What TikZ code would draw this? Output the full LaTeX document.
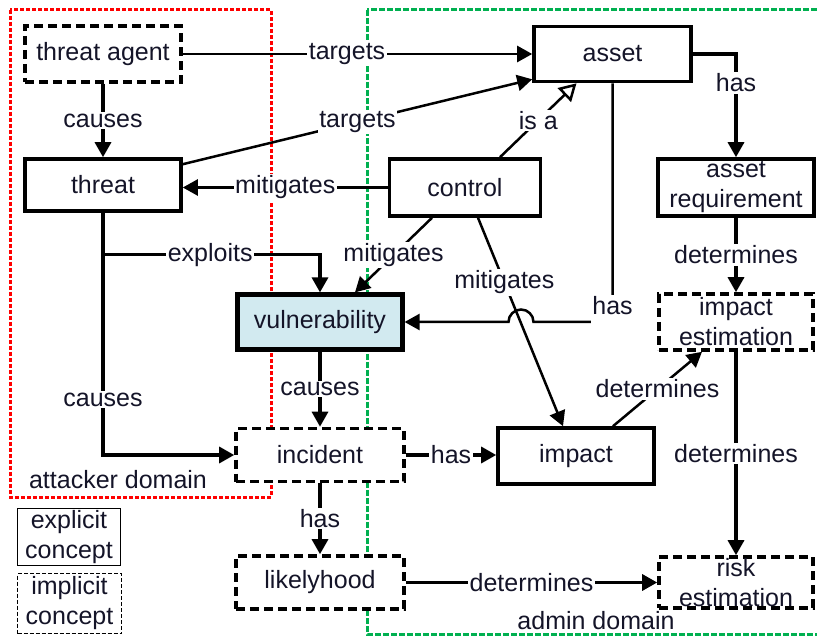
\documentclass[tikz,border=0pt]{standalone}
\usepackage{fontspec}
\setmainfont{Liberation Sans}
\usetikzlibrary{arrows.meta,calc}

\definecolor{ink}{RGB}{20,20,40}
\definecolor{vulnfill}{RGB}{210,234,240}
\definecolor{attackred}{RGB}{255,0,0}
\definecolor{admingreen}{RGB}{0,176,80}

\begin{document}
\begin{tikzpicture}[x=1pt,y=-1pt,
  every node/.style={font=\fontsize{25}{30}\selectfont, text=ink},
  concept/.style={draw=black, line width=3.6pt, fill=white, align=center, inner sep=0pt},
  explicitbox/.style={concept},
  implicitbox/.style={concept, dash pattern=on 9pt off 5pt},
  legendsolid/.style={draw=black, line width=1.4pt, align=center, inner sep=0pt},
  legenddashed/.style={draw=black, line width=1.4pt, dash pattern=on 4pt off 2pt, align=center, inner sep=0pt},
  lbl/.style={fill=white, inner sep=1.5pt},
  rel/.style={line width=2.5pt, -{Triangle[length=15pt,width=16pt]}},
  relthick/.style={line width=3.3pt, -{Triangle[length=15pt,width=16pt]}},
  isa/.style={line width=2.5pt, -{Triangle[open,length=17pt,width=19pt]}},
  region/.style={line width=3pt},
]
\useasboundingbox (0,0) rectangle (817,636);

% domains
\draw[region, attackred, dash pattern=on 4pt off 2pt] (10,10) rectangle (271,497);
\draw[region, admingreen, dash pattern=on 6pt off 2pt] (367,10) rectangle (824,634);
\node (attackerlabel) at (118,480) {attacker domain};
\node (adminlabel) at (596,621) {admin domain};

% concepts
\node[implicitbox, minimum width=156pt, minimum height=56pt] (agent) at (103,54) {threat agent};
\node[explicitbox, minimum width=156pt, minimum height=52pt] (threat) at (103,185) {threat};
\node[explicitbox, minimum width=157pt, minimum height=55pt] (asset) at (612.5,54) {asset};
\node[explicitbox, minimum width=151pt, minimum height=57pt] (control) at (465,187.5) {control};
\node[explicitbox, minimum width=156pt, minimum height=57pt] (assetreq) at (736,187.5) {asset\\requirement};
\node[explicitbox, line width=4.2pt, fill=vulnfill, minimum width=165pt, minimum height=55pt] (vuln) at (320,322) {vulnerability};
\node[implicitbox, minimum width=168pt, minimum height=53pt] (incident) at (320,455) {incident};
\node[implicitbox, minimum width=168pt, minimum height=53pt] (likely) at (320,582.5) {likelyhood};
\node[implicitbox, minimum width=154pt, minimum height=56pt] (impactest) at (736,322) {impact\\estimation};
\node[explicitbox, minimum width=156pt, minimum height=56pt] (impact) at (576,456) {impact};
\node[implicitbox, minimum width=154pt, minimum height=51pt] (riskest) at (736,582.5) {risk\\estimation};

% legend
\node[legendsolid, minimum width=103pt, minimum height=57pt] (legexplicit) at (69,537) {explicit\\concept};
\node[legenddashed, minimum width=104pt, minimum height=60pt] (legimplicit) at (69.5,603.5) {implicit\\concept};

% relations
\draw[rel] (agent.east) -- node[lbl, pos=0.47] {targets} (asset.west |- agent.east);
\draw[rel] ([yshift=-7pt]threat.north east) -- node[lbl] {targets} ([yshift=4pt]asset.south west);
\draw[relthick] (agent.south) -- node[lbl] {causes} (threat.north);
\draw[rel] (control.west) -- node[lbl] {mitigates} (threat.east |- control.west);
\draw[isa] ([xshift=35pt]control.north) -- node[lbl] {is a} ([xshift=-36pt]asset.south);

\coordinate (split) at ($(threat.south)+(0,42)$);
\draw[relthick] (threat.south) |- node[lbl, pos=0.386] {causes} (incident.west);
\draw[relthick] (split) -| node[lbl, pos=0.247] {exploits} (vuln.north);

\draw[rel] ([xshift=-33pt]control.south) -- node[lbl] {mitigates} ([xshift=35pt]vuln.north);
\draw[rel] ([xshift=13pt]control.south) -- node[lbl, pos=0.31] {mitigates} ([xshift=-13pt]impact.north);

\draw[rel] (asset.south) -- node[lbl, pos=0.948, text depth=9pt] {has} (asset.south |- vuln.east)
  -- ++(-79,0) arc[start angle=0, end angle=180, radius=12.5pt] -- (vuln.east);

\draw[relthick] (asset.east) -| node[lbl, pos=0.64] {has} (assetreq.north);
\draw[relthick] (assetreq.south) -- node[lbl] {determines} (impactest.north);
\draw[rel] ([xshift=37pt]impact.north) -- node[lbl] {determines} ([xshift=-34pt]impactest.south);
\draw[relthick] (impactest.south) -- node[lbl] {determines} (riskest.north);

\draw[relthick] (vuln.south) -- node[lbl] {causes} (incident.north);
\draw[relthick] (incident.east) -- node[lbl] {has} (impact.west |- incident.east);
\draw[relthick] (incident.south) -- node[lbl] {has} (likely.north);
\draw[relthick] (likely.east) -- node[lbl] {determines} (riskest.west |- likely.east);
\end{tikzpicture}
\end{document}
